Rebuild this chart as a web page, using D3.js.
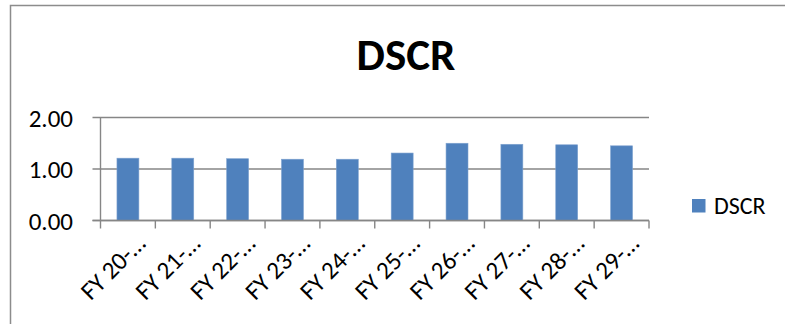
<!DOCTYPE html>
<html>
<head>
<meta charset="utf-8">
<script src="https://cdn.jsdelivr.net/npm/d3@7"></script>
<style>
  html, body { margin: 0; padding: 0; background: #fff; }
  svg { display: block; }
  text { font-family: Carlito, Calibri, Lato, "Open Sans", sans-serif; fill: #000; }
</style>
</head>
<body>
<svg id="chart" width="785" height="324"></svg>
<script>
// DSCR by financial year
const categories = ["FY 20-…", "FY 21-…", "FY 22-…", "FY 23-…", "FY 24-…",
                    "FY 25-…", "FY 26-…", "FY 27-…", "FY 28-…", "FY 29-…"];
const dscr = [1.21, 1.21, 1.20, 1.19, 1.19, 1.31, 1.50, 1.48, 1.47, 1.45];
const yTicks = [0, 1, 2];
const seriesName = "DSCR";
const chartTitle = "DSCR";

const svg = d3.select("#chart");
const gridColor = "#868686";
const barColor = "#4F81BD";

// chart frame
svg.append("rect")
  .attr("x", 10.5).attr("y", 5.5)
  .attr("width", 800).attr("height", 400)
  .attr("fill", "none")
  .attr("stroke", "#8c8c8c")
  .attr("stroke-width", 1.5);

const plot = { left: 100.5, right: 649, top: 117.5, bottom: 220.5 };

const x = d3.scaleBand()
  .domain(categories)
  .range([plot.left, plot.right])
  .paddingInner(0.6)
  .paddingOuter(0.3);

const y = d3.scaleLinear()
  .domain([0, 2])
  .range([plot.bottom, plot.top]);

// horizontal gridlines with their left tick marks
svg.append("g")
  .selectAll("line")
  .data(yTicks)
  .join("line")
  .attr("x1", plot.left - 8)
  .attr("x2", plot.right)
  .attr("y1", d => y(d))
  .attr("y2", d => y(d))
  .attr("stroke", gridColor)
  .attr("stroke-width", 1.4);

// value axis line
svg.append("line")
  .attr("x1", plot.left).attr("x2", plot.left)
  .attr("y1", y(2)).attr("y2", y(0))
  .attr("stroke", gridColor)
  .attr("stroke-width", 1.4);

// category boundary ticks
const step = x.step();
const boundaries = d3.range(categories.length + 1).map(i => plot.left + i * step);
svg.append("g")
  .selectAll("line")
  .data(boundaries)
  .join("line")
  .attr("x1", d => d).attr("x2", d => d)
  .attr("y1", y(0)).attr("y2", y(0) + 8)
  .attr("stroke", gridColor)
  .attr("stroke-width", 1.4);

// bars
svg.append("g")
  .selectAll("rect")
  .data(dscr)
  .join("rect")
  .attr("x", (d, i) => x(categories[i]))
  .attr("width", x.bandwidth())
  .attr("y", d => y(d))
  .attr("height", d => y(0) - y(d))
  .attr("fill", barColor)
  .attr("stroke", "#7ea2cf")
  .attr("stroke-width", 0.6);

// redraw the zero line over the bar bases
svg.append("line")
  .attr("x1", plot.left - 8).attr("x2", plot.right)
  .attr("y1", y(0)).attr("y2", y(0))
  .attr("stroke", gridColor)
  .attr("stroke-width", 1.4);

// value labels
svg.append("g")
  .selectAll("text")
  .data(yTicks)
  .join("text")
  .attr("x", 73)
  .attr("y", d => y(d))
  .attr("dy", "0.36em")
  .attr("text-anchor", "end")
  .attr("font-size", 25)
  .text(d => d3.format(".2f")(d));

// rotated category labels
svg.append("g")
  .selectAll("text")
  .data(categories)
  .join("text")
  .attr("text-anchor", "end")
  .attr("font-size", 25)
  .attr("transform", d => `translate(${x(d) + x.bandwidth() / 2 + 19},245) rotate(-45)`)
  .text(d => d);

// title
svg.append("text")
  .attr("x", 406)
  .attr("y", 70)
  .attr("text-anchor", "middle")
  .attr("font-size", 45)
  .attr("font-weight", "bold")
  .text(chartTitle);

// legend
const legend = svg.append("g");
legend.append("rect")
  .attr("x", 692).attr("y", 199)
  .attr("width", 13.5).attr("height", 13.5)
  .attr("fill", barColor);
legend.append("text")
  .attr("x", 714)
  .attr("y", 213.5)
  .attr("font-size", 24)
  .text(seriesName);
</script>
</body>
</html>
